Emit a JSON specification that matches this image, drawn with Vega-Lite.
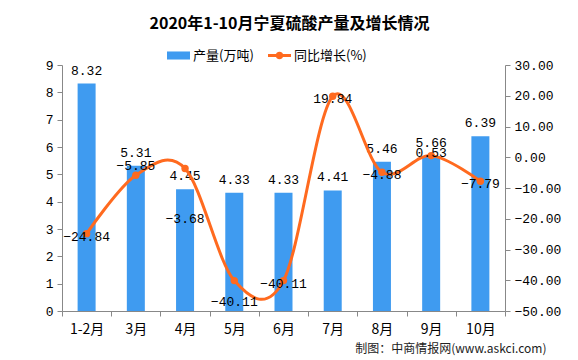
{
  "$schema": "https://vega.github.io/schema/vega-lite/v6.json",
  "width": 443,
  "height": 246,
  "autosize": {"type": "none"},
  "padding": {"left": 62, "top": 65, "right": 73, "bottom": 49},
  "background": "white",
  "config": {
    "view": {"stroke": null},
    "font": "Liberation Mono, Noto Sans CJK SC",
    "axis": {"domainColor": "#888888", "tickColor": "#888888", "labelColor": "#000000", "labelFontSize": 13, "labelFont": "Liberation Mono, Noto Sans CJK SC", "grid": false, "tickSize": 5}
  },
  "title": {
    "text": "2020年1-10月宁夏硫酸产量及增长情况",
    "font": "Noto Sans CJK SC",
    "fontSize": 16,
    "fontWeight": "bold",
    "color": "#000000",
    "anchor": "middle",
    "dx": 6,
    "offset": 12
  },
  "data": {
    "values": [
      {"month": "1-2月", "output": 8.32, "growth": -24.84},
      {"month": "3月", "output": 5.31, "growth": -5.85},
      {"month": "4月", "output": 4.45, "growth": -3.68},
      {"month": "5月", "output": 4.33, "growth": -40.11},
      {"month": "6月", "output": 4.33, "growth": -40.11},
      {"month": "7月", "output": 4.41, "growth": 19.84},
      {"month": "8月", "output": 5.46, "growth": -4.88},
      {"month": "9月", "output": 5.66, "growth": 0.53},
      {"month": "10月", "output": 6.39, "growth": -7.79}
    ]
  },
  "encoding": {
    "x": {
      "field": "month",
      "type": "nominal",
      "sort": null,
      "scale": {"paddingInner": 0, "paddingOuter": 0},
      "axis": {
        "labelAngle": 0,
        "labelFontSize": 14,
        "labelFont": "Noto Sans CJK SC",
        "labelPadding": 6,
        "tickBand": "extent",
        "title": "制图：中商情报网(www.askci.com)",
        "titleFont": "Noto Sans CJK SC",
        "titleFontSize": 12,
        "titleFontWeight": "normal",
        "titleColor": "#222222",
        "titleAlign": "right",
        "titleAnchor": "end",
        "titleBaseline": "middle",
        "titleX": 484,
        "titleY": 37
      }
    }
  },
  "layer": [
    {
      "encoding": {
        "y": {
          "field": "output",
          "type": "quantitative",
          "scale": {"domain": [0, 9], "nice": false},
          "axis": {"orient": "left", "title": null, "values": [0,1,2,3,4,5,6,7,8,9], "labelPadding": 4}
        }
      },
      "layer": [
        {
          "mark": {"type": "bar", "size": 18},
          "encoding": {
            "fill": {
              "datum": "产量(万吨)",
              "scale": {"range": ["#3F9BF0"]},
              "legend": {
                "orient": "none",
                "legendX": 105,
                "legendY": -21,
                "title": null,
                "symbolType": "M-1,-0.35H1V0.35H-1Z",
                "symbolSize": 529,
                "symbolStrokeWidth": 0,
                "labelFont": "Noto Sans CJK SC",
                "labelFontSize": 13,
                "labelColor": "#000000",
                "labelOffset": 3
              }
            }
          }
        },
        {
          "mark": {"type": "text", "baseline": "bottom", "dy": -6, "fontSize": 13, "color": "#000000", "font": "Liberation Mono"},
          "encoding": {"text": {"field": "output", "type": "quantitative", "format": ".2f"}}
        }
      ]
    },
    {
      "encoding": {
        "y": {
          "field": "growth",
          "type": "quantitative",
          "scale": {"domain": [-50, 30], "nice": false},
          "axis": {"orient": "right", "title": null, "values": [-50,-40,-30,-20,-10,0,10,20,30], "format": ".2f", "labelPadding": 4}
        }
      },
      "layer": [
        {
          "mark": {"type": "line", "interpolate": "cardinal", "tension": 0, "strokeWidth": 3},
          "encoding": {
            "stroke": {
              "datum": "同比增长(%)",
              "scale": {"range": ["#FF6A1F"]},
              "legend": {
                "orient": "none",
                "legendX": 206,
                "legendY": -21,
                "title": null,
                "symbolType": "M-1,-0.12H1V0.12H-1Z M0.33,0A0.33,0.33 0 1,1 -0.33,0A0.33,0.33 0 1,1 0.33,0Z",
                "symbolSize": 529,
                "symbolFillColor": "#FF6A1F",
                "symbolStrokeWidth": 0,
                "labelFont": "Noto Sans CJK SC",
                "labelFontSize": 13,
                "labelColor": "#000000",
                "labelOffset": 3
              }
            }
          }
        },
        {
          "mark": {"type": "point", "filled": true, "size": 55, "color": "#FF6A1F", "opacity": 1}
        },
        {
          "transform": [{"filter": {"field": "month", "oneOf": ["1-2月", "6月", "7月", "8月", "10月"]}}],
          "mark": {"type": "text", "baseline": "middle", "dy": 3, "fontSize": 13, "color": "#000000", "font": "Liberation Mono"},
          "encoding": {"text": {"field": "growth", "type": "quantitative", "format": ".2f"}}
        },
        {
          "transform": [{"filter": {"field": "month", "equal": "3月"}}],
          "mark": {"type": "text", "baseline": "middle", "dy": -9, "fontSize": 13, "color": "#000000", "font": "Liberation Mono"},
          "encoding": {"text": {"field": "growth", "type": "quantitative", "format": ".2f"}}
        },
        {
          "transform": [{"filter": {"field": "month", "equal": "9月"}}],
          "mark": {"type": "text", "baseline": "middle", "dy": -3, "fontSize": 13, "color": "#000000", "font": "Liberation Mono"},
          "encoding": {"text": {"field": "growth", "type": "quantitative", "format": ".2f"}}
        },
        {
          "transform": [{"filter": {"field": "month", "equal": "4月"}}],
          "mark": {"type": "text", "baseline": "middle", "dy": 50, "fontSize": 13, "color": "#000000", "font": "Liberation Mono"},
          "encoding": {"text": {"field": "growth", "type": "quantitative", "format": ".2f"}}
        },
        {
          "transform": [{"filter": {"field": "month", "equal": "5月"}}],
          "mark": {"type": "text", "baseline": "middle", "dy": 21, "fontSize": 13, "color": "#000000", "font": "Liberation Mono"},
          "encoding": {"text": {"field": "growth", "type": "quantitative", "format": ".2f"}}
        }
      ]
    }
  ],
  "resolve": {"scale": {"y": "independent"}}
}
